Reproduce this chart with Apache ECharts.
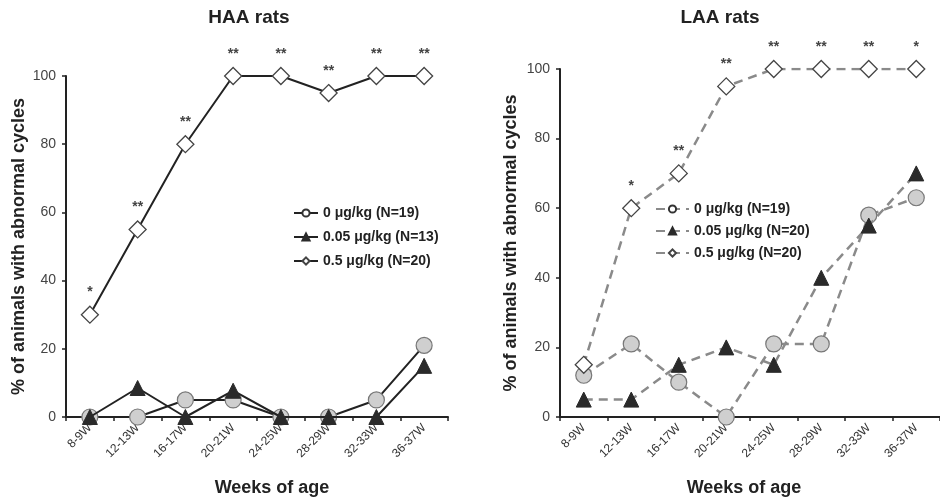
<!DOCTYPE html>
<html>
<head>
<meta charset="utf-8">
<script src="https://cdn.jsdelivr.net/npm/echarts@6/dist/echarts.min.js"></script>
<style>
html, body { margin: 0; padding: 0; background: #fff; }
.wrap { position: relative; width: 940px; height: 501px; }
.panel { position: absolute; top: 0; width: 470px; height: 501px; }
#haa { left: 0; }
#laa { left: 470px; }
</style>
</head>
<body>
<div class="wrap">
    <div class="panel" id="haa"></div>
    <div class="panel" id="laa"></div>
</div>
<script>
// weeks of age
const weeks = ['8-9W', '12-13W', '16-17W', '20-21W', '24-25W', '28-29W', '32-33W', '36-37W'];
const yTicks = [0, 20, 40, 60, 80, 100];

// HAA rats, % with abnormal cycles
const haaDose0 = [0, 0, 5, 5, 0, 0, 5, 21];
const haaDose005 = [0, 8.5, 0, 7.7, 0, 0, 0, 15];
const haaDose05 = [30, 55, 80, 100, 100, 95, 100, 100];
const haaSig = ['*', '**', '**', '**', '**', '**', '**', '**'];
const haaNames = ['0 μg/kg (N=19)', '0.05 μg/kg (N=13)', '0.5 μg/kg (N=20)'];

// LAA rats
const laaDose0 = [12, 21, 10, 0, 21, 21, 58, 63];
const laaDose005 = [5, 5, 15, 20, 15, 40, 55, 70];
const laaDose05 = [15, 60, 70, 95, 100, 100, 100, 100];
const laaSig = ['', '*', '**', '**', '**', '**', '**', '*'];
const laaNames = ['0 μg/kg (N=19)', '0.05 μg/kg (N=20)', '0.5 μg/kg (N=20)'];

const FONT = '"Liberation Sans", Arial, sans-serif';

function buildOption (cfg) {
    let lineStyle = {
        color: cfg.lineColor,
        width: cfg.lineWidth,
        type: cfg.dashed ? [9, 6] : 'solid'
    };
    return {
        backgroundColor: '#fff',
        animation: false,
        title: {
            text: cfg.title,
            left: cfg.titleX,
            top: 3,
            textAlign: 'center',
            textStyle: { fontFamily: FONT, fontSize: 19, fontWeight: 'bold', color: '#222' }
        },
        legend: {
            orient: 'vertical',
            left: cfg.legendLeft,
            top: cfg.legendTop,
            itemWidth: cfg.legendItemWidth,
            itemHeight: 9,
            itemGap: cfg.legendGap,
            selectedMode: false,
            data: [
                { name: cfg.names[0], itemStyle: { color: '#fff', borderColor: '#333' } },
                { name: cfg.names[1] },
                { name: cfg.names[2] }
            ],
            textStyle: { fontFamily: FONT, fontSize: 14, fontWeight: 'bold', color: '#222' }
        },
        grid: Object.assign({ outerBoundsMode: 'none', containLabel: false }, cfg.grid),
        xAxis: {
            type: 'category',
            data: weeks,
            boundaryGap: true,
            name: 'Weeks of age',
            nameLocation: 'middle',
            nameGap: 62,
            nameMoveOverlap: false,
            nameTextStyle: {
                fontFamily: FONT, fontSize: 18, fontWeight: 'bold', color: '#222',
                padding: cfg.xNamePad
            },
            axisLine: { lineStyle: { color: '#222', width: 2 } },
            axisTick: { show: true, length: 4, lineStyle: { color: '#222', width: 1.5 } },
            axisLabel: {
                rotate: 45,
                margin: 9,
                fontFamily: FONT,
                fontSize: 12,
                color: '#333'
            },
            splitLine: { show: false }
        },
        yAxis: {
            type: 'value',
            min: yTicks[0],
            max: yTicks[yTicks.length - 1],
            interval: 20,
            name: '% of animals with abnormal cycles',
            nameLocation: 'middle',
            nameGap: cfg.yNameGap,
            nameMoveOverlap: false,
            nameTextStyle: { fontFamily: FONT, fontSize: 18, fontWeight: 'bold', color: '#222' },
            axisLine: { show: true, lineStyle: { color: '#222', width: 2 } },
            axisTick: { show: true, length: 4, lineStyle: { color: '#222', width: 1.5 } },
            axisLabel: { fontFamily: FONT, fontSize: 14, color: '#444', margin: 10 },
            splitLine: { show: false }
        },
        series: [
            {
                name: cfg.names[0],
                type: 'line',
                data: cfg.d0,
                symbol: 'circle',
                symbolSize: 16,
                lineStyle: lineStyle,
                itemStyle: { color: '#cfcfcf', borderColor: '#777', borderWidth: 1.2 },
                z: 3
            },
            {
                name: cfg.names[1],
                type: 'line',
                data: cfg.d1,
                symbol: 'triangle',
                symbolSize: 15,
                lineStyle: lineStyle,
                itemStyle: { color: '#2a2a2a', borderColor: '#2a2a2a', borderWidth: 1 },
                z: 4
            },
            {
                name: cfg.names[2],
                type: 'line',
                data: cfg.d2,
                symbol: 'diamond',
                symbolSize: 17,
                lineStyle: lineStyle,
                itemStyle: { color: '#fff', borderColor: '#444', borderWidth: 1.3 },
                label: {
                    show: true,
                    position: 'top',
                    distance: 6,
                    formatter: (p) => cfg.sig[p.dataIndex],
                    fontFamily: FONT,
                    fontSize: 14,
                    fontWeight: 'bold',
                    color: '#444'
                },
                z: 5
            }
        ]
    };
}

let haaChart = echarts.init(document.getElementById('haa'));
haaChart.setOption(buildOption({
    title: 'HAA rats',
    titleX: 244,
    names: haaNames,
    d0: haaDose0, d1: haaDose005, d2: haaDose05,
    sig: haaSig,
    lineColor: '#222',
    lineWidth: 2,
    dashed: false,
    legendLeft: 288,
    legendTop: 201,
    legendItemWidth: 24,
    legendGap: 10,
    grid: { left: 66, right: 22, top: 76, bottom: 84 },
    yNameGap: 38,
    xNamePad: [0, 0, 0, 30]
}));

let laaChart = echarts.init(document.getElementById('laa'));
laaChart.setOption(buildOption({
    title: 'LAA rats',
    titleX: 245,
    names: laaNames,
    d0: laaDose0, d1: laaDose005, d2: laaDose05,
    sig: laaSig,
    lineColor: '#8a8a8a',
    lineWidth: 2.5,
    dashed: true,
    legendLeft: 180,
    legendTop: 197,
    legendItemWidth: 33,
    legendGap: 8,
    grid: { left: 90, right: 0, top: 69, bottom: 84 },
    yNameGap: 40,
    xNamePad: [0, 12, 0, 0]
}));
</script>
</body>
</html>
